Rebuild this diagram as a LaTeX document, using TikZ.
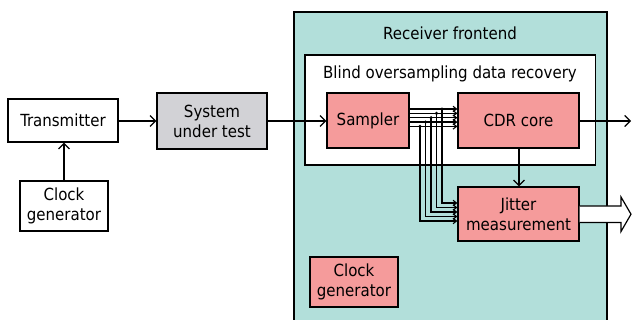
\documentclass[tikz,border=0pt]{standalone}
\usepackage{fontspec}
\setmainfont{DejaVu Sans Condensed}
\usetikzlibrary{arrows.meta}
\definecolor{teal1}{RGB}{178,223,218}
\definecolor{pink1}{RGB}{245,155,155}
\definecolor{gray1}{RGB}{210,210,214}
\tikzset{
  blk/.style={draw=black, line width=1.2pt, align=center, inner sep=0pt,
     font=\fontsize{16.7}{20}\selectfont},
  wblk/.style={blk, fill=white},
  pblk/.style={blk, fill=pink1},
  gblk/.style={blk, fill=gray1},
  conn/.style={line width=1.2pt, -{Straight Barb[length=5.5pt,width=11pt,line width=1.2pt]}},
  bus/.style={line width=1.1pt, -{Straight Barb[length=3.5pt,width=5.5pt,line width=1.1pt]}},
  lbl/.style={font=\fontsize{16.7}{20}\selectfont, inner sep=0pt}
}
\begin{document}
\begin{tikzpicture}[x=1pt,y=-1pt]
\clip (0,0) rectangle (632,320);
\fill[white] (0,0) rectangle (632,320);
% containers
\draw[line width=1.2pt, fill=teal1] (294,12) rectangle (607,340);
\draw[line width=1.2pt, fill=white] (305,55) rectangle (595.5,165);
\node[lbl] (rxl) at (450,33) {Receiver frontend};
\node[lbl] (bdl) at (450,74) {Blind oversampling data recovery};
% blocks
\node[wblk, minimum width=110pt, minimum height=43pt] (tx) at (63,120.5) {Transmitter};
\node[wblk, minimum width=88pt, minimum height=50pt] (clk1) at (64,206) {Clock\\generator};
\node[gblk, minimum width=110pt, minimum height=56pt] (sut) at (212,121) {System\\under test};
\node[pblk, minimum width=82pt, minimum height=55pt] (smp) at (368,120.5) {Sampler};
\node[pblk, minimum width=121pt, minimum height=55pt] (cdr) at (518.5,120.5) {CDR core};
\node[pblk, minimum width=121pt, minimum height=54pt] (jit) at (518.5,214) {Jitter\\measurement};
\node[pblk, minimum width=88pt, minimum height=50pt] (clk2) at (354,282) {Clock\\generator};
% connectors
\coordinate (out) at (631,121);
\draw[conn] (clk1.north) -- (clk1.north |- tx.south);
\draw[conn] (tx.east |- 0,121) -- (sut.west |- 0,121);
\draw[conn] (sut.east |- 0,121) -- (smp.west |- 0,121);
\draw[conn] (cdr.east |- out) -- (out);
\draw[conn] (cdr.south -| 519,0) -- (jit.north -| 519,0);
% bus
\foreach \i in {0,...,4} {
  \pgfmathsetmacro{\ya}{109+4.35*\i}
  \pgfmathsetmacro{\xb}{442-5.5*\i}
  \pgfmathsetmacro{\yb}{203+4.5*\i}
  \draw[bus] (smp.east |- 0,\ya) -- (cdr.west |- 0,\ya);
  \draw[bus] (\xb,\ya) -- (\xb,\yb) -- (jit.west |- 0,\yb);
  \fill (\xb,\ya) circle (1.7pt);
}
% fat output arrow
\draw[line width=1.2pt, fill=white, line join=miter]
  (jit.east |- 0,206) -- (621,206) -- (621,197) -- (631,214.2) -- (621,231.5) -- (621,222.5) -- (jit.east |- 0,222.5);
\end{tikzpicture}
\end{document}
